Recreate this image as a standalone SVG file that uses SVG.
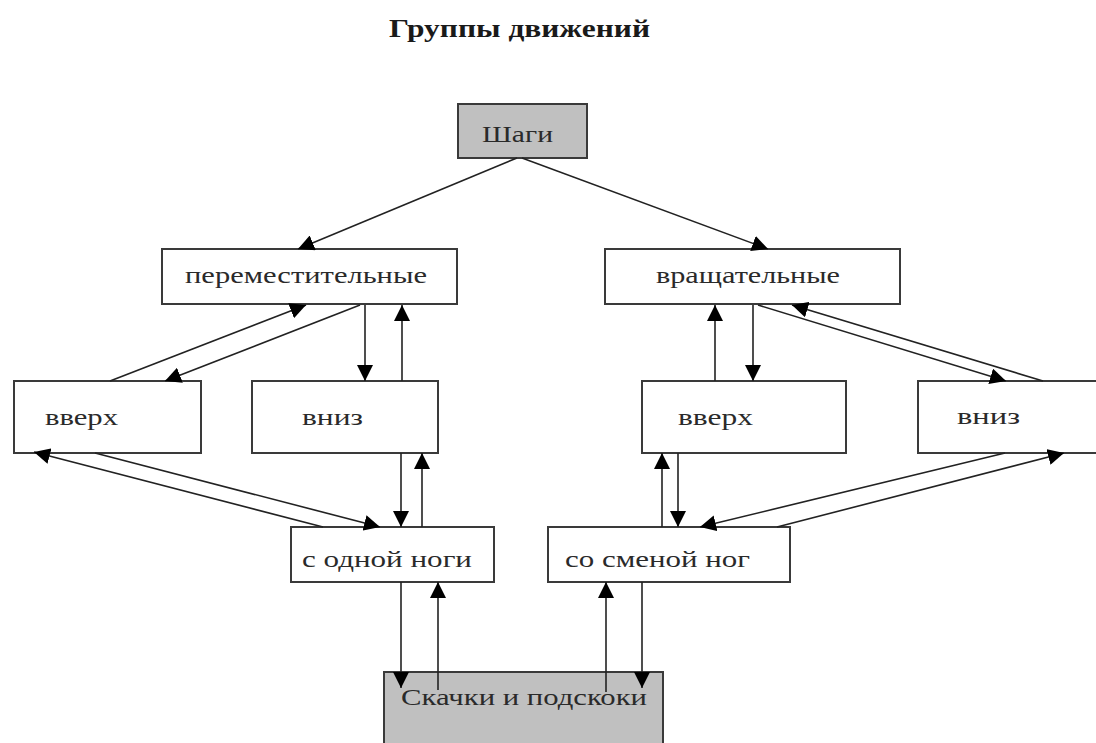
<svg xmlns="http://www.w3.org/2000/svg" width="1096" height="743" viewBox="0 0 1096 743">
<style>
.box{fill:#fff;stroke:#3a3a3a;stroke-width:2}
.gray{fill:#c0c0c0;stroke:#3a3a3a;stroke-width:2}
.lbl{font-family:"Liberation Serif","Times New Roman",serif;font-size:23px;fill:#2a2a2a}
.title{font-family:"Liberation Serif","Times New Roman",serif;font-size:26px;font-weight:bold;fill:#1a1a1a}
.c line{stroke:#222;stroke-width:1.6;marker-end:url(#ah)}
</style>
<defs>
<marker id="ah" markerUnits="userSpaceOnUse" markerWidth="17" markerHeight="16" refX="16" refY="8" orient="auto">
<path d="M0,0 L16,8 L0,16 z" fill="#000"/>
</marker>
</defs>
<rect width="1096" height="743" fill="#fff"/>
<text class="title" x="389" y="37" textLength="261" lengthAdjust="spacingAndGlyphs">Группы движений</text>

<g id="shagi"><rect class="gray" x="458" y="104" width="129" height="54"/><text class="lbl" x="482" y="142" textLength="71" lengthAdjust="spacingAndGlyphs">Шаги</text></g>
<g id="peremest"><rect class="box" x="162" y="249" width="295" height="55"/><text class="lbl" x="185" y="283" textLength="242" lengthAdjust="spacingAndGlyphs">переместительные</text></g>
<g id="vrasch"><rect class="box" x="605" y="249" width="295" height="55"/><text class="lbl" x="656" y="283" textLength="184" lengthAdjust="spacingAndGlyphs">вращательные</text></g>
<g id="vverh1"><rect class="box" x="14" y="381" width="187" height="72"/><text class="lbl" x="45" y="425" textLength="73" lengthAdjust="spacingAndGlyphs">вверх</text></g>
<g id="vniz1"><rect class="box" x="252" y="381" width="186" height="72"/><text class="lbl" x="302" y="425" textLength="61" lengthAdjust="spacingAndGlyphs">вниз</text></g>
<g id="vverh2"><rect class="box" x="642" y="381" width="204" height="72"/><text class="lbl" x="678" y="425" textLength="75" lengthAdjust="spacingAndGlyphs">вверх</text></g>
<g id="vniz2"><rect class="box" x="918" y="381" width="190" height="72"/><text class="lbl" x="957" y="424" textLength="63" lengthAdjust="spacingAndGlyphs">вниз</text></g>
<g id="odnoy"><rect class="box" x="291" y="527" width="203" height="55"/><text class="lbl" x="302" y="567" textLength="170" lengthAdjust="spacingAndGlyphs">с одной ноги</text></g>
<g id="smenoy"><rect class="box" x="548" y="527" width="242" height="55"/><text class="lbl" x="565" y="567" textLength="185" lengthAdjust="spacingAndGlyphs">со сменой ног</text></g>
<g id="skachki"><rect class="gray" x="384" y="672" width="279" height="80"/><text class="lbl" x="401" y="705" textLength="246" lengthAdjust="spacingAndGlyphs">Скачки и подскоки</text></g>

<g id="connectors" class="c">
<line x1="517" y1="158" x2="298" y2="249"/>
<line x1="522" y1="158" x2="768" y2="249"/>
<line x1="110" y1="381" x2="306" y2="305"/>
<line x1="360" y1="305" x2="165" y2="381"/>
<line x1="365" y1="305" x2="365" y2="381"/>
<line x1="402" y1="381" x2="402" y2="305"/>
<line x1="715" y1="381" x2="715" y2="305"/>
<line x1="753" y1="305" x2="753" y2="381"/>
<line x1="758" y1="305" x2="1006" y2="381"/>
<line x1="1043" y1="381" x2="792" y2="305"/>
<line x1="323" y1="527" x2="34" y2="452"/>
<line x1="95" y1="453" x2="380" y2="527"/>
<line x1="401" y1="453" x2="401" y2="527"/>
<line x1="422" y1="527" x2="422" y2="453"/>
<line x1="662" y1="527" x2="662" y2="453"/>
<line x1="678" y1="453" x2="678" y2="527"/>
<line x1="1005" y1="453" x2="700" y2="527"/>
<line x1="777" y1="527" x2="1064" y2="453"/>
<line x1="401" y1="582" x2="401" y2="688"/>
<line x1="438" y1="690" x2="438" y2="582"/>
<line x1="606" y1="692" x2="606" y2="582"/>
<line x1="642" y1="582" x2="642" y2="688"/>
</g>
</svg>
